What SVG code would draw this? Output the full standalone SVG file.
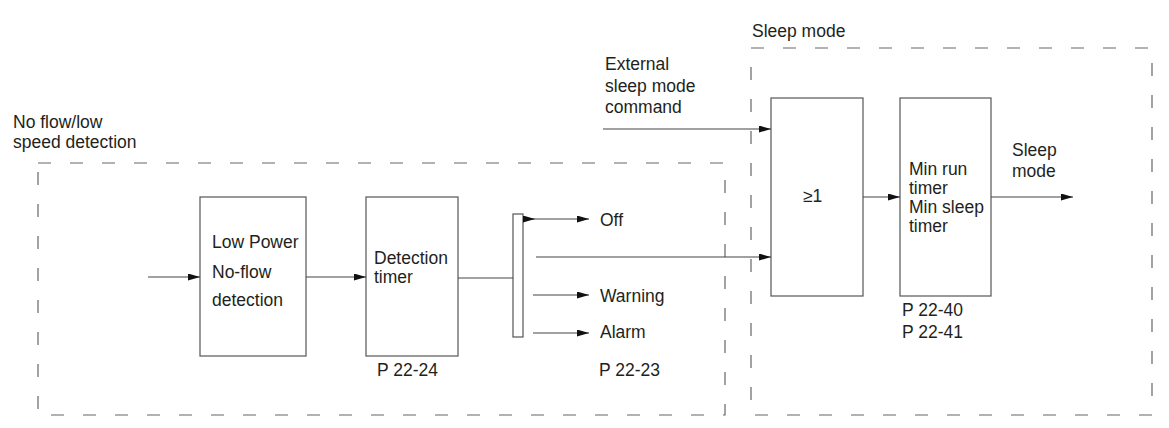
<svg xmlns="http://www.w3.org/2000/svg" width="1169" height="428" viewBox="0 0 1169 428">
<style>
.t{font-family:"Liberation Sans",Arial,sans-serif;font-size:17.5px;fill:#231f20}
.box{fill:#fff;stroke:#555;stroke-width:1.2}
.dash{fill:none;stroke:#666;stroke-width:1.2;stroke-dasharray:13 19}
.ln{stroke:#444;stroke-width:1.2;fill:none}
</style>
<defs>
<marker id="ah" markerUnits="userSpaceOnUse" markerWidth="13" markerHeight="8" refX="12" refY="3.5" orient="auto">
<path d="M0,0 L12,3.5 L0,7 z" fill="#111"/>
</marker>
</defs>
<rect width="1169" height="428" fill="#fff"/>
<g id="group-noflow">
<rect class="dash" x="38" y="163" width="687" height="252"/>
<text class="t" x="13" y="128">No flow/low</text>
<text class="t" x="13" y="148">speed detection</text>
</g>
<g id="group-sleep">
<rect class="dash" x="751" y="48" width="401" height="367"/>
<text class="t" x="752" y="37">Sleep mode</text>
</g>
<g id="node-lowpower">
<rect class="box" x="200" y="197" width="106" height="159"/>
<text class="t" x="212" y="248">Low Power</text>
<text class="t" x="212" y="278">No-flow</text>
<text class="t" x="212" y="306">detection</text>
</g>
<g id="node-timer">
<rect class="box" x="366" y="197" width="92" height="159"/>
<text class="t" x="374" y="264">Detection</text>
<text class="t" x="374" y="283">timer</text>
<text class="t" x="377" y="376">P 22-24</text>
</g>
<g id="node-switch">
<rect class="box" x="513" y="214" width="10" height="123"/>
</g>
<g id="label-outputs">
<text class="t" x="600" y="226">Off</text>
<text class="t" x="600" y="302">Warning</text>
<text class="t" x="600" y="338">Alarm</text>
<text class="t" x="599" y="376">P 22-23</text>
</g>
<g id="label-external">
<text class="t" x="605" y="70">External</text>
<text class="t" x="605" y="92">sleep mode</text>
<text class="t" x="605" y="113">command</text>
</g>
<g id="node-or">
<rect class="box" x="771" y="98" width="92" height="198"/>
<text class="t" x="803" y="202">≥1</text>
</g>
<g id="node-minrun">
<rect class="box" x="900" y="98" width="91" height="198"/>
<text class="t" x="909" y="175">Min run</text>
<text class="t" x="909" y="194">timer</text>
<text class="t" x="909" y="213">Min sleep</text>
<text class="t" x="909" y="232">timer</text>
<text class="t" x="902" y="316">P 22-40</text>
<text class="t" x="902" y="338">P 22-41</text>
</g>
<g id="label-sleepout">
<text class="t" x="1012" y="156">Sleep</text>
<text class="t" x="1012" y="177">mode</text>
</g>
<g id="connectors">
<line class="ln" x1="148" y1="277" x2="200" y2="277" marker-end="url(#ah)"/>
<line class="ln" x1="306" y1="277" x2="366" y2="277" marker-end="url(#ah)"/>
<line class="ln" x1="458" y1="278" x2="513" y2="278"/>
<line class="ln" x1="523" y1="219" x2="535" y2="219" marker-end="url(#ah)"/>
<line class="ln" x1="535" y1="219" x2="589" y2="219" marker-end="url(#ah)"/>
<line class="ln" x1="536" y1="257" x2="771" y2="257" marker-end="url(#ah)"/>
<line class="ln" x1="533" y1="295" x2="589" y2="295" marker-end="url(#ah)"/>
<line class="ln" x1="533" y1="333" x2="589" y2="333" marker-end="url(#ah)"/>
<line class="ln" x1="603" y1="129" x2="771" y2="129" marker-end="url(#ah)"/>
<line class="ln" x1="863" y1="197" x2="900" y2="197" marker-end="url(#ah)"/>
<line class="ln" x1="991" y1="197" x2="1073" y2="197" marker-end="url(#ah)"/>
</g>
</svg>
